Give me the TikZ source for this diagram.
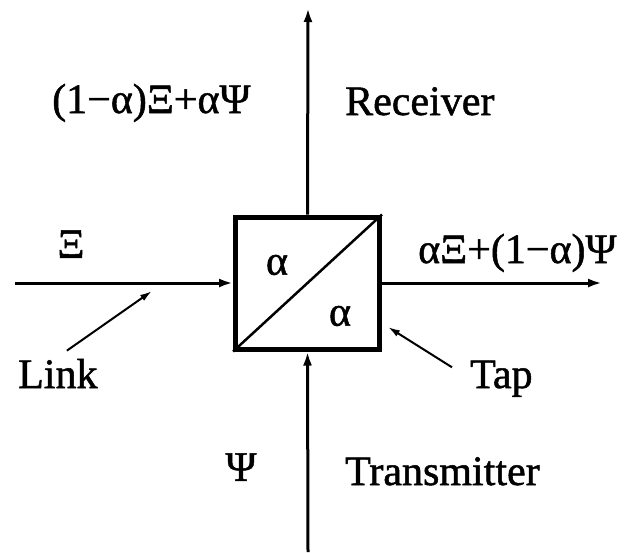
\documentclass[tikz,border=0pt]{standalone}
\usepackage{fontspec}
\setmainfont{Liberation Serif}[FakeBold=1.2]
\usetikzlibrary{arrows.meta}

\begin{document}
\begin{tikzpicture}[x=1pt,y=-1pt,
  lbl/.style={font=\fontsize{42}{48}\selectfont,inner sep=0pt},
  wire/.style={line width=3pt,-{Latex[length=14pt,width=9pt]}},
  pointer/.style={line width=2pt,-{Latex[length=12pt,width=7pt]}}]
\useasboundingbox (0,0) rectangle (636,552);

\node[draw,line width=5pt,minimum width=144pt,minimum height=132pt,inner sep=0pt] (coupler) at (307.5,283) {};
\draw[line width=2.5pt] (coupler.south west) -- (coupler.north east);
\node[lbl] (alphaA) at (277,265) {α};
\node[lbl] (alphaB) at (340,316) {α};

\coordinate (linkin) at (15,283);
\coordinate (tapout) at (602,283);
\coordinate (rxend) at (308,8);
\coordinate (txend) at (308,552);
\coordinate (linkhit) at (152,291);
\coordinate (taphit) at (388,327);

\draw[wire] (linkin) -- (coupler.west);
\draw[wire] (coupler.east) -- (tapout);
\draw[wire] (coupler.north) -- (rxend);
\draw[wire] (txend) -- (coupler.south);

\node[lbl,anchor=base west] (rxsig) at (52,113) {(1−α)Ξ+αΨ};
\node[lbl,anchor=base west] (rx) at (345,115) {Receiver};
\node[lbl] (xi) at (71,244) {Ξ};
\node[lbl,anchor=base west] (txsig) at (418,263) {αΞ+(1−α)Ψ};
\node[lbl,anchor=base west] (link) at (18,388) {Link};
\node[lbl,anchor=base west] (tap) at (470,388) {Tap};
\node[lbl] (psi) at (241,467) {Ψ};
\node[lbl,anchor=base west] (tx) at (345,485) {Transmitter};

\draw[pointer] ([xshift=9pt,yshift=8pt]link.north) -- (linkhit);
\draw[pointer] ([xshift=-18pt,yshift=-7pt]tap.north west) -- (taphit);
\end{tikzpicture}
\end{document}
